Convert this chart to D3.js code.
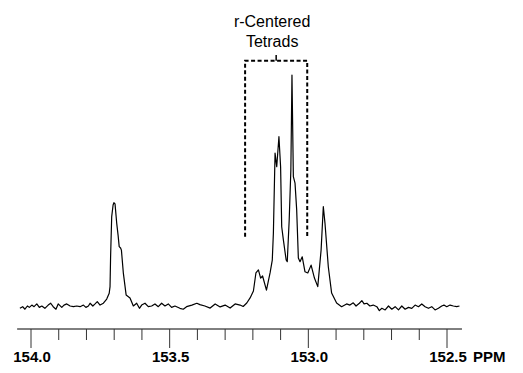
<!DOCTYPE html>
<html>
<head>
<meta charset="utf-8">
<script src="https://cdn.jsdelivr.net/npm/d3@7"></script>
<style>
  body { margin: 0; background: #fff; }
  svg { display: block; font-family: "Liberation Sans", Arial, sans-serif; }
</style>
</head>
<body>
<div id="chart"></div>
<script>
// 13C NMR carbonyl region, chemical shift (ppm) vs relative intensity (main peak = 100)
const shiftPPM = [
  154.040, 154.030, 154.022, 154.013, 154.006, 153.997, 153.989, 153.979, 153.970, 153.961,
  153.950, 153.938, 153.929, 153.920, 153.910, 153.902, 153.889, 153.881, 153.871, 153.859,
  153.847, 153.835, 153.823, 153.811, 153.802, 153.793, 153.787, 153.777, 153.769, 153.761,
  153.751, 153.739, 153.727, 153.718, 153.715, 153.713, 153.709, 153.704, 153.701, 153.697,
  153.691, 153.686, 153.682, 153.677, 153.674, 153.667, 153.657, 153.643, 153.631, 153.619,
  153.609, 153.601, 153.589, 153.577, 153.565, 153.553, 153.541, 153.529, 153.517, 153.505,
  153.493, 153.481, 153.463, 153.451, 153.439, 153.420, 153.402, 153.391, 153.373, 153.354,
  153.336, 153.318, 153.300, 153.282, 153.264, 153.246, 153.235, 153.222, 153.210, 153.198,
  153.189, 153.180, 153.172, 153.165, 153.151, 153.138, 153.130, 153.126, 153.120, 153.114,
  153.106, 153.100, 153.096, 153.090, 153.080, 153.076, 153.069, 153.063, 153.059, 153.054,
  153.048, 153.042, 153.036, 153.030, 153.022, 153.012, 153.002, 152.990, 152.978, 152.966,
  152.954, 152.946, 152.940, 152.928, 152.916, 152.898, 152.880, 152.862, 152.850, 152.838,
  152.828, 152.816, 152.807, 152.799, 152.789, 152.778, 152.766, 152.753, 152.744, 152.735,
  152.723, 152.711, 152.699, 152.687, 152.675, 152.663, 152.651, 152.639, 152.627, 152.615,
  152.603, 152.591, 152.579, 152.567, 152.555, 152.543, 152.531, 152.519, 152.511, 152.501,
  152.489, 152.477, 152.465, 152.455
];
const intensity = [
  -1.0, -0.3, -1.4, 0, -0.6, 0.4, -0.3, 0.9, -0.6, 0,
  -1.0, 0.4, 1.2, -0.3, -1.4, 0.9, -0.6, 0.4, 0.9, 0,
  -0.3, 0, -0.3, 0.4, -0.6, 0, 1.2, 0, 0.9, 1.9,
  0.4, 1.2, 3.0, 5.5, 8.4, 21.3, 38.7, 43.7, 44.7, 44.2,
  35.9, 30.7, 25.7, 25.1, 24.2, 14.2, 4.8, 3.5, 0, 1.2,
  -1.0, 0.4, 1.2, -0.3, 0, 0.9, -0.3, 1.2, 0, 0.9,
  -0.6, 0, -1.0, -1.4, -0.3, 0.4, 1.2, 0.6, 0, -0.9,
  0.9, -0.4, 0.4, -0.9, 0.9, 0.4, -0.2, 1.3, 3.5, 6.5,
  14.3, 15.6, 12.1, 13.0, 6.9, 14.3, 19.9, 31.6, 66.2, 60.3,
  73.3, 60.3, 34.3, 28.6, 19.9, 19.2, 37.2, 58.9, 100, 56.0,
  53.2, 41.6, 20.8, 19.2, 21.3, 14.8, 14.3, 17.7, 12.1, 8.4,
  24.2, 43.0, 35.9, 17.0, 5.6, 1.3, -0.3, 0.9, 0.4, 1.4,
  0, 1.2, 2.3, 0.9, 1.2, 0, 0.4, -0.3, -2.0, -1.0,
  -1.7, 0, -1.4, -0.3, -1.7, 0, -1.4, -0.6, -1.0, 0.4,
  -0.3, 0.9, -0.3, -1.0, -0.3, -1.7, -1.0, 0, 0.4, -0.3,
  0.4, 0, -0.3, 0
];
const majorTicks = [154.0, 153.5, 153.0, 152.5];
const minorTicks = [153.9, 153.8, 153.7, 153.6, 153.4, 153.3, 153.2, 153.1,
                    152.9, 152.8, 152.7, 152.6];
const axisUnit = 'PPM';
const bracketLabel = ['r-Centered', 'Tetrads'];
const bracketRange = [153.228, 153.004];   // ppm, left / right edges
const bracketLevels = [30, 106.2, 108.7];  // bottom, top, centre notch (intensity units)

const width = 523, height = 373;

const svg = d3.select('#chart')
  .append('svg')
  .attr('width', width)
  .attr('height', height);

svg.append('rect').attr('width', width).attr('height', height).attr('fill', '#fff');

// ppm runs right to left
const x = d3.scaleLinear()
  .domain([154.0, 152.5])
  .range([31, 447]);

const y = d3.scaleLinear()
  .domain([0, 100])
  .range([306, 75]);

const axisY = 329;

//axis line
svg.append('line')
  .attr('x1', x(154.05)).attr('x2', x(152.446))
  .attr('y1', axisY).attr('y2', axisY)
  .attr('stroke', '#000')
  .attr('stroke-width', 1);

//ticks
svg.append('g')
  .selectAll('line')
  .data(majorTicks)
  .join('line')
  .attr('x1', d => x(d)).attr('x2', d => x(d))
  .attr('y1', axisY).attr('y2', axisY + 19)
  .attr('stroke', '#333')
  .attr('stroke-width', 1);

svg.append('g')
  .selectAll('line')
  .data(minorTicks)
  .join('line')
  .attr('x1', d => x(d)).attr('x2', d => x(d))
  .attr('y1', axisY).attr('y2', axisY + 11)
  .attr('stroke', '#333')
  .attr('stroke-width', 1);

svg.append('g')
  .selectAll('text')
  .data(majorTicks)
  .join('text')
  .attr('x', d => x(d) + 1)
  .attr('y', 362)
  .attr('text-anchor', 'middle')
  .attr('font-size', 15)
  .attr('font-weight', 'bold')
  .text(d => d.toFixed(1));

svg.append('text')
  .attr('x', 473)
  .attr('y', 362)
  .attr('font-size', 15)
  .attr('font-weight', 'bold')
  .text(axisUnit);

//spectrum
const line = d3.line()
  .x((d, i) => x(shiftPPM[i]))
  .y(d => y(d));

svg.append('path')
  .datum(intensity)
  .attr('d', line)
  .attr('fill', 'none')
  .attr('stroke', '#000')
  .attr('stroke-width', 1.2)
  .attr('stroke-linejoin', 'round');

//dashed bracket
const [bLeft, bRight] = bracketRange;
const [bBottom, bTop, bNotch] = bracketLevels;
svg.append('path')
  .attr('d', `M${x(bLeft)},${y(bBottom)} V${y(bTop)} H${x(bRight)} V${y(bBottom)}`)
  .attr('fill', 'none')
  .attr('stroke', '#000')
  .attr('stroke-width', 2)
  .attr('stroke-dasharray', '4,2.5');

const mid = (x(bLeft) + x(bRight)) / 2;
svg.append('line')
  .attr('x1', mid).attr('x2', mid)
  .attr('y1', y(bTop)).attr('y2', y(bNotch))
  .attr('stroke', '#000')
  .attr('stroke-width', 1.5);

svg.append('g')
  .selectAll('text')
  .data(bracketLabel)
  .join('text')
  .attr('x', mid - 4)
  .attr('y', (d, i) => 26.5 + i * 20)
  .attr('text-anchor', 'middle')
  .attr('font-size', 16)
  .text(d => d);
</script>
</body>
</html>
